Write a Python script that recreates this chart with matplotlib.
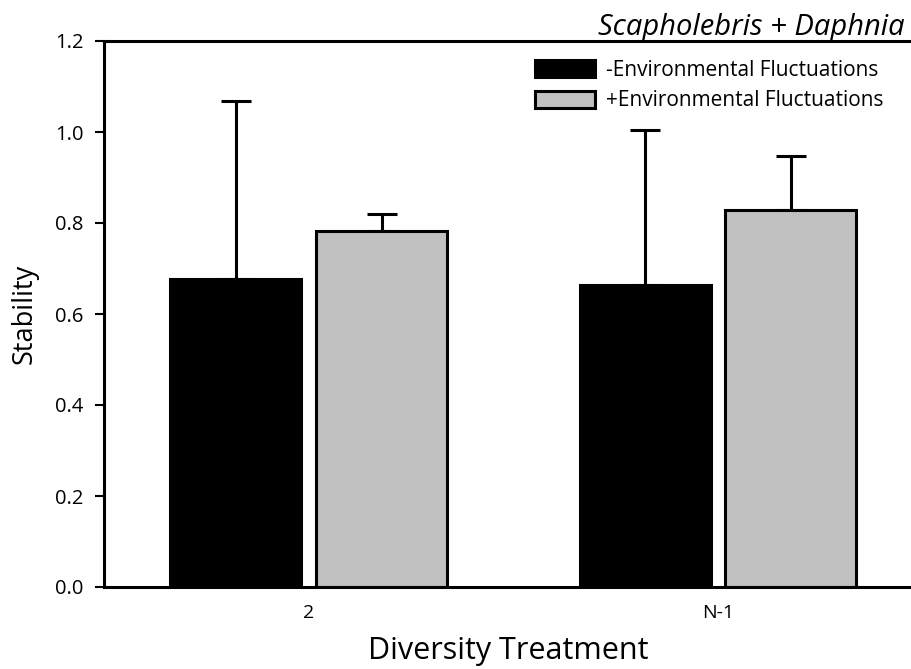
import matplotlib
matplotlib.use("Agg")
import matplotlib.pyplot as plt
import numpy as np
from matplotlib.patches import Patch

plt.rcParams['font.family'] = ['Open Sans', 'DejaVu Sans']

categories = ["2", "N-1"]
series_labels = ["-Environmental Fluctuations", "+Environmental Fluctuations"]
no_fluct = [0.677, 0.664]
no_fluct_err = [0.391, 0.340]
fluct = [0.782, 0.829]
fluct_err = [0.038, 0.118]
colors = ["#000000", "#c0c0c0"]

W, H = 912, 669
fig = plt.figure(figsize=(W / 100, H / 100), dpi=100)
ax = fig.add_axes([104 / W, 1 - 587 / H, 1 - 104 / W, (587 - 41) / H])

x = np.arange(len(categories))
bw = 0.32
off = 0.178
lw = 2.2
for vals, errs, col, sign in [(no_fluct, no_fluct_err, colors[0], -1), (fluct, fluct_err, colors[1], 1)]:
    pos = x + sign * off
    ax.errorbar(pos, vals, yerr=[np.zeros(len(errs)), errs], fmt='none', ecolor='black',
                elinewidth=lw, capsize=10.8, capthick=lw, zorder=1)
    ax.bar(pos, vals, width=bw, color=col, edgecolor='black', linewidth=lw, zorder=2)

ax.set_xlim(-0.5, 1.474)
ax.set_ylim(0, 1.2)
ax.set_yticks(np.arange(0, 1.21, 0.2))
ax.set_yticklabels([f"{v:.1f}" for v in np.arange(0, 1.21, 0.2)])
ax.set_xticks(x)
ax.set_xticklabels(categories)
ax.tick_params(axis='y', direction='out', length=6.5, width=1.5, pad=8, labelsize=14.5)
ax.tick_params(axis='x', length=0, pad=12, labelsize=14)
for s in ['left', 'bottom', 'top']:
    ax.spines[s].set_linewidth(2.2)
ax.spines['right'].set_visible(False)

ax.set_ylabel("Stability", fontsize=19.5, labelpad=12)
ax.set_xlabel("Diversity Treatment", fontsize=22, labelpad=10)

fig.text(905 / W, 1 - 27 / H, "Scapholebris + Daphnia", ha='right', va='center',
         fontsize=21, style='italic')

handles = [Patch(facecolor=c, edgecolor='black', linewidth=lw) for c in colors]
ax.legend(handles, series_labels, loc='upper left', bbox_to_anchor=(535 / W, 1 - 60 / H),
          bbox_transform=fig.transFigure, frameon=False, fontsize=15, handlelength=2.9,
          handleheight=0.9, handletextpad=0.5, labelspacing=0.45, borderpad=0, borderaxespad=0)

fig.savefig("out.png", dpi=100)
